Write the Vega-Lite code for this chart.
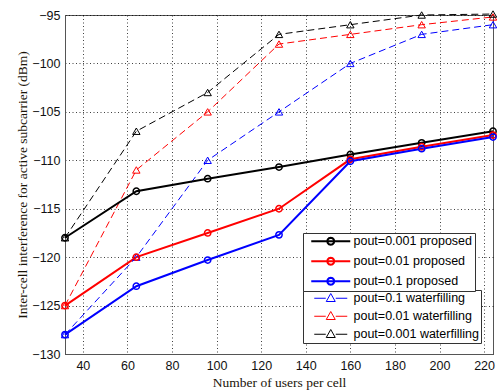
{
  "$schema": "https://vega.github.io/schema/vega-lite/v6.json",
  "width": 428,
  "height": 339,
  "autosize": {"type": "none"},
  "padding": {"left": 65, "top": 15, "right": 4, "bottom": 38},
  "background": "white",
  "config": {
    "view": {"stroke": "#555", "strokeWidth": 1},
    "axis": {
      "labelFont": "Liberation Sans",
      "labelFontSize": 12.5,
      "labelColor": "#111",
      "titleFont": "Liberation Serif",
      "titleFontSize": 13.5,
      "titleFontWeight": "normal",
      "titleColor": "#1a1408",
      "gridColor": "#000",
      "gridDash": [1, 2.5],
      "gridOpacity": 0.75,
      "gridWidth": 1,
      "domainColor": "#555",
      "ticks": false
    },
    "legend": {
      "labelFont": "Liberation Sans",
      "labelFontSize": 12.5,
      "labelColor": "#000"
    }
  },
  "data": {
    "values": [
      {"x": 32, "y": -118, "s": "pout=0.001 proposed", "t": "proposed"},
      {"x": 64, "y": -113.2, "s": "pout=0.001 proposed", "t": "proposed"},
      {"x": 96, "y": -111.9, "s": "pout=0.001 proposed", "t": "proposed"},
      {"x": 128, "y": -110.7, "s": "pout=0.001 proposed", "t": "proposed"},
      {"x": 160, "y": -109.4, "s": "pout=0.001 proposed", "t": "proposed"},
      {"x": 192, "y": -108.2, "s": "pout=0.001 proposed", "t": "proposed"},
      {"x": 224, "y": -107, "s": "pout=0.001 proposed", "t": "proposed"},
      {"x": 32, "y": -125, "s": "pout=0.01 proposed", "t": "proposed"},
      {"x": 64, "y": -120, "s": "pout=0.01 proposed", "t": "proposed"},
      {"x": 96, "y": -117.5, "s": "pout=0.01 proposed", "t": "proposed"},
      {"x": 128, "y": -115, "s": "pout=0.01 proposed", "t": "proposed"},
      {"x": 160, "y": -109.9, "s": "pout=0.01 proposed", "t": "proposed"},
      {"x": 192, "y": -108.6, "s": "pout=0.01 proposed", "t": "proposed"},
      {"x": 224, "y": -107.4, "s": "pout=0.01 proposed", "t": "proposed"},
      {"x": 32, "y": -128, "s": "pout=0.1 proposed", "t": "proposed"},
      {"x": 64, "y": -123, "s": "pout=0.1 proposed", "t": "proposed"},
      {"x": 96, "y": -120.3, "s": "pout=0.1 proposed", "t": "proposed"},
      {"x": 128, "y": -117.7, "s": "pout=0.1 proposed", "t": "proposed"},
      {"x": 160, "y": -110.1, "s": "pout=0.1 proposed", "t": "proposed"},
      {"x": 192, "y": -108.8, "s": "pout=0.1 proposed", "t": "proposed"},
      {"x": 224, "y": -107.6, "s": "pout=0.1 proposed", "t": "proposed"},
      {"x": 32, "y": -128, "s": "pout=0.1 waterfilling", "t": "waterfilling"},
      {"x": 64, "y": -120, "s": "pout=0.1 waterfilling", "t": "waterfilling"},
      {"x": 96, "y": -110, "s": "pout=0.1 waterfilling", "t": "waterfilling"},
      {"x": 128, "y": -105, "s": "pout=0.1 waterfilling", "t": "waterfilling"},
      {"x": 160, "y": -100, "s": "pout=0.1 waterfilling", "t": "waterfilling"},
      {"x": 192, "y": -97, "s": "pout=0.1 waterfilling", "t": "waterfilling"},
      {"x": 224, "y": -96, "s": "pout=0.1 waterfilling", "t": "waterfilling"},
      {"x": 32, "y": -125, "s": "pout=0.01 waterfilling", "t": "waterfilling"},
      {"x": 64, "y": -111, "s": "pout=0.01 waterfilling", "t": "waterfilling"},
      {"x": 96, "y": -105, "s": "pout=0.01 waterfilling", "t": "waterfilling"},
      {"x": 128, "y": -98, "s": "pout=0.01 waterfilling", "t": "waterfilling"},
      {"x": 160, "y": -97, "s": "pout=0.01 waterfilling", "t": "waterfilling"},
      {"x": 192, "y": -96, "s": "pout=0.01 waterfilling", "t": "waterfilling"},
      {"x": 224, "y": -95.2, "s": "pout=0.01 waterfilling", "t": "waterfilling"},
      {"x": 32, "y": -118, "s": "pout=0.001 waterfilling", "t": "waterfilling"},
      {"x": 64, "y": -107, "s": "pout=0.001 waterfilling", "t": "waterfilling"},
      {"x": 96, "y": -103, "s": "pout=0.001 waterfilling", "t": "waterfilling"},
      {"x": 128, "y": -97, "s": "pout=0.001 waterfilling", "t": "waterfilling"},
      {"x": 160, "y": -96, "s": "pout=0.001 waterfilling", "t": "waterfilling"},
      {"x": 192, "y": -95, "s": "pout=0.001 waterfilling", "t": "waterfilling"},
      {"x": 224, "y": -94.9, "s": "pout=0.001 waterfilling", "t": "waterfilling"}
    ]
  },
  "encoding": {
    "x": {
      "field": "x", "type": "quantitative",
      "scale": {"domain": [32, 224], "nice": false, "zero": false},
      "axis": {
        "title": "Number of users per cell",
        "values": [40, 60, 80, 100, 120, 140, 160, 180, 200, 220],
        "labelPadding": 5,
        "titlePadding": 4
      }
    },
    "y": {
      "field": "y", "type": "quantitative",
      "scale": {"domain": [-130, -95], "nice": false, "zero": false},
      "axis": {
        "title": "Inter-cell interference for active subcarrier (dBm)",
        "values": [-130, -125, -120, -115, -110, -105, -100, -95],
        "labelPadding": 5,
        "titlePadding": 2
      }
    }
  },
  "layer": [
    {
      "transform": [{"filter": "datum.t == 'waterfilling'"}],
      "mark": {"type": "line", "strokeWidth": 1, "strokeDash": [7, 4]},
      "encoding": {
        "stroke": {
          "field": "s", "type": "nominal",
          "scale": {
            "domain": ["pout=0.1 waterfilling", "pout=0.01 waterfilling", "pout=0.001 waterfilling"],
            "range": ["#0000ff", "#ff0000", "#000000"]
          },
          "legend": {
            "title": null,
            "orient": "none",
            "legendX": 238,
            "legendY": 275,
            "strokeColor": "#333",
            "fillColor": "white",
            "padding": 2,
            "rowPadding": 4,
            "symbolSize": 100,
            "symbolStrokeWidth": 1,
            "symbolType": "M0.6,0L2.9,0M4.9,0L7.2,0M3.9,-0.95L4.8,0.65L3,0.65Z",
            "labelOffset": 36
          }
        }
      }
    },
    {
      "transform": [{"filter": "datum.t == 'proposed'"}],
      "mark": {"type": "line", "strokeWidth": 2},
      "encoding": {
        "color": {
          "field": "s", "type": "nominal",
          "scale": {
            "domain": ["pout=0.001 proposed", "pout=0.01 proposed", "pout=0.1 proposed"],
            "range": ["#000000", "#ff0000", "#0000ff"]
          },
          "legend": {
            "title": null,
            "orient": "none",
            "legendX": 238,
            "legendY": 218,
            "strokeColor": "#333",
            "fillColor": "white",
            "padding": 2,
            "rowPadding": 4,
            "symbolSize": 100,
            "symbolStrokeWidth": 2,
            "symbolType": "M0,0L7.8,0M4.6,0L4.506,0.35L4.25,0.606L3.9,0.7L3.55,0.606L3.294,0.35L3.2,0L3.294,-0.35L3.55,-0.606L3.9,-0.7L4.25,-0.606L4.506,-0.35Z",
            "labelOffset": 36,
            "labelExpr": "datum.label + '  '"
          }
        }
      }
    },
    {
      "transform": [{"filter": "datum.t == 'waterfilling'"}],
      "mark": {"type": "point", "shape": "triangle-up", "filled": false, "size": 55, "strokeWidth": 1, "opacity": 1},
      "encoding": {
        "stroke": {"field": "s", "type": "nominal"}
      }
    },
    {
      "transform": [{"filter": "datum.t == 'proposed'"}],
      "mark": {"type": "point", "shape": "circle", "filled": false, "size": 40, "strokeWidth": 1.5, "opacity": 1},
      "encoding": {
        "color": {"field": "s", "type": "nominal"}
      }
    }
  ]
}
